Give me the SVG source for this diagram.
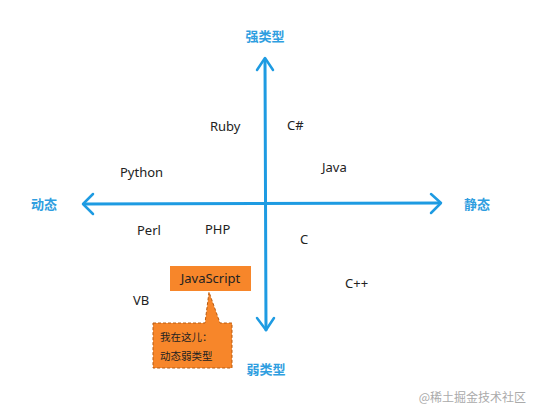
<svg xmlns="http://www.w3.org/2000/svg" width="540" height="416" viewBox="0 0 540 416">
<style>
.axis{stroke:#1e9be2;stroke-width:3;fill:none;stroke-linecap:round;stroke-linejoin:round}
.head{stroke:#1e9be2;stroke-width:2.5;fill:none;stroke-linecap:round;stroke-linejoin:round}
.ax{font-family:"Noto Sans CJK SC","Noto Sans",sans-serif;font-size:13px;fill:#2f9ee0;font-weight:bold}
.lang{font-family:"Noto Sans","Liberation Sans",sans-serif;font-size:13px;fill:#222}
.note{font-family:"Noto Sans CJK SC",sans-serif;font-size:10.5px;fill:#222}
</style>
<rect width="540" height="416" fill="#fff"/>
<g id="connectors">
<line class="axis" x1="265" y1="60" x2="266" y2="330"/>
<line class="axis" x1="84" y1="204" x2="440" y2="203"/>
<polyline class="head" points="257,70 265,58 273,70"/>
<polyline class="head" points="257,318 266,330 274,318"/>
<polyline class="head" points="93,194 83,204 93,214"/>
<polyline class="head" points="431,194 441,203 431,213"/>
</g>
<g id="strong"><text class="ax" x="265" y="41" text-anchor="middle">强类型</text></g>
<g id="weak"><text class="ax" x="266" y="374" text-anchor="middle">弱类型</text></g>
<g id="dynamic"><text class="ax" x="44" y="209" text-anchor="middle">动态</text></g>
<g id="static"><text class="ax" x="477" y="209" text-anchor="middle">静态</text></g>
<g id="ruby"><text class="lang" x="210" y="131">Ruby</text></g>
<g id="csharp"><text class="lang" x="287" y="130">C#</text></g>
<g id="python"><text class="lang" x="120" y="177">Python</text></g>
<g id="java"><text class="lang" x="322" y="172">Java</text></g>
<g id="perl"><text class="lang" x="137" y="235">Perl</text></g>
<g id="php"><text class="lang" x="205" y="234">PHP</text></g>
<g id="c"><text class="lang" x="300" y="244">C</text></g>
<g id="cpp"><text class="lang" x="345" y="288">C++</text></g>
<g id="vb"><text class="lang" x="133" y="305">VB</text></g>
<g id="javascript">
<rect x="170" y="266" width="81" height="25" fill="#f7862a"/>
<text class="lang" x="210.5" y="283" text-anchor="middle">JavaScript</text>
</g>
<g id="callout">
<path d="M153,323 H205 L209,292 L220,323 H232 V368 H153 Z" fill="#f7862a" stroke="#b85a10" stroke-width="1" stroke-dasharray="3,2"/>
<text class="note" x="160" y="341">我在这儿：</text>
<text class="note" x="160" y="360">动态弱类型</text>
</g>
<g id="watermark"><text x="526" y="402" text-anchor="end" font-family="Noto Sans CJK SC,sans-serif" font-size="12" fill="#aaa">@稀土掘金技术社区</text></g>
</svg>
